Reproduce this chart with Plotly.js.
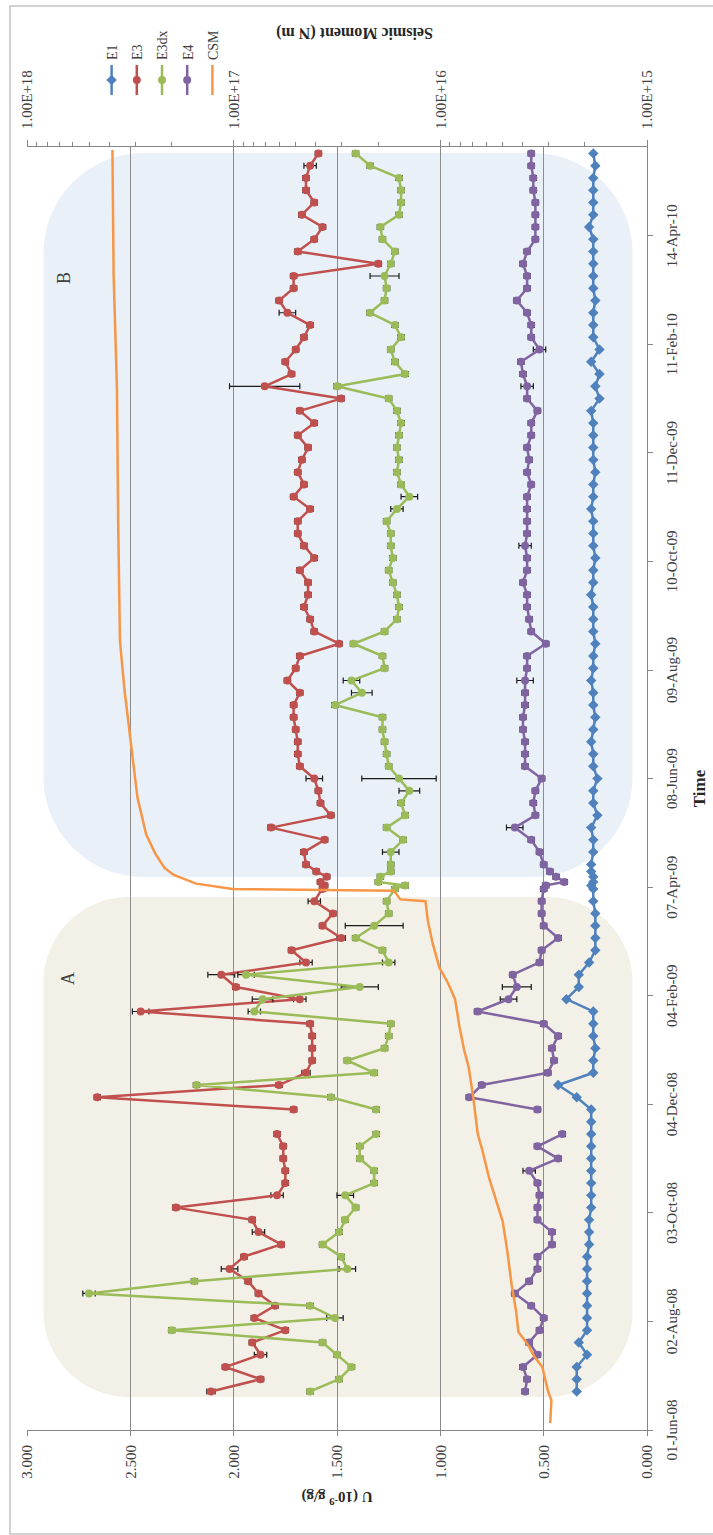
<!DOCTYPE html>
<html>
<head>
<meta charset="utf-8">
<script src="https://cdn.plot.ly/plotly-3.0.1.min.js"></script>
<style>
html,body{margin:0;padding:0;background:#fff;overflow:hidden;width:713px;height:1535px;}
#wrap{position:absolute;left:0;top:0;width:1535px;height:713px;transform-origin:0 0;transform:translateY(1535px) rotate(-90deg);}
</style>
</head>
<body>
<div id="wrap"><div id="chart"></div></div>
<script>
// ---------- DATA ----------
var dates = ["2008-06-23","2008-06-30","2008-07-07","2008-07-14","2008-07-21","2008-07-28","2008-08-04","2008-08-11","2008-08-18","2008-08-25",
"2008-09-01","2008-09-08","2008-09-15","2008-09-22","2008-09-29","2008-10-06","2008-10-13","2008-10-20","2008-10-27","2008-11-03",
"2008-11-10","2008-11-17","2008-11-24","2008-12-01","2008-12-08","2008-12-15","2008-12-22","2008-12-29","2009-01-05","2009-01-12",
"2009-01-19","2009-01-26","2009-02-02","2009-02-09","2009-02-16","2009-02-23","2009-03-02","2009-03-09","2009-03-16","2009-03-23",
"2009-03-30","2009-04-06","2009-04-08","2009-04-10","2009-04-13","2009-04-16","2009-04-20",
"2009-04-27","2009-05-04","2009-05-11","2009-05-18","2009-05-25","2009-06-01","2009-06-08","2009-06-15","2009-06-22","2009-06-29",
"2009-07-06","2009-07-13","2009-07-20","2009-07-27","2009-08-03","2009-08-10","2009-08-17","2009-08-24","2009-08-31","2009-09-07",
"2009-09-14","2009-09-21","2009-09-28","2009-10-05","2009-10-12","2009-10-19","2009-10-26","2009-11-02","2009-11-09","2009-11-16",
"2009-11-23","2009-11-30","2009-12-07","2009-12-14","2009-12-21","2009-12-28",
"2010-01-04","2010-01-11","2010-01-18","2010-01-25",
"2010-02-01","2010-02-08",
"2010-02-15","2010-02-22","2010-03-01","2010-03-08","2010-03-15","2010-03-22","2010-03-29","2010-04-05","2010-04-12",
"2010-04-19",
"2010-04-26","2010-05-03","2010-05-10","2010-05-17","2010-05-24","2010-05-31"];

var e1 = [.34,.34,.34,.29,.33,.29,.29,.29,.29,.29,
.29,.29,.28,.28,.28,.27,.27,.27,.27,.27,
.27,.27,.27,.27,.34,.43,.26,.26,.25,.26,
.26,.26,.39,.33,.33,.28,.25,.25,.25,.25,
.26,.26,.27,.26,.26,.27,.27,
.26,.26,.27,.24,.26,.26,.24,.26,.26,.27,
.26,.25,.26,.26,.27,.26,.26,.25,.26,.26,
.26,.27,.26,.26,.25,.26,.26,.26,.27,.26,
.26,.25,.26,.26,.26,.26,
.27,.23,.25,.23,
.27,.23,
.26,.26,.26,.25,.26,.26,.26,.26,.26,
.28,
.26,.26,.26,.26,.25,.26];

var e3 = [2.11,1.87,2.04,1.87,1.91,1.75,1.90,1.80,1.88,1.93,
2.02,1.95,1.77,1.88,1.91,2.28,1.79,1.75,1.75,1.76,
1.76,1.79,null,1.71,2.66,1.78,1.65,1.62,1.62,1.62,
1.63,2.45,1.68,1.99,2.06,1.65,1.72,1.48,1.57,1.52,
1.61,1.57,1.56,1.58,1.55,1.60,1.65,
1.66,1.56,1.82,1.53,1.58,1.59,1.61,1.68,1.69,1.69,
1.70,1.71,1.71,1.68,1.74,1.70,1.68,1.49,1.61,1.63,
1.66,1.64,1.64,1.68,1.61,1.66,1.69,1.69,1.63,1.71,
1.66,1.69,1.67,1.64,1.69,1.61,
1.68,1.48,1.85,1.72,
1.75,1.70,
1.66,1.63,1.74,1.78,1.71,1.71,1.30,1.69,1.61,
1.57,
1.67,1.61,1.65,1.65,1.63,1.59];

var e3dx = [1.63,1.49,1.43,1.50,1.57,2.30,1.51,1.63,2.70,2.19,
1.45,1.48,1.57,1.49,1.46,1.41,1.46,1.32,1.32,1.39,
1.39,1.31,null,1.31,1.53,2.18,1.32,1.45,1.27,1.25,
1.24,1.90,1.86,1.39,1.94,1.25,1.28,1.41,1.32,1.25,
1.26,1.22,1.17,1.30,1.29,1.24,1.24,
1.24,1.18,1.26,1.17,1.19,1.15,1.20,1.25,1.26,1.27,
1.28,1.28,1.51,1.38,1.43,1.27,1.28,1.42,1.27,1.21,
1.20,1.21,1.23,1.25,1.23,1.24,1.24,1.26,1.21,1.15,
1.19,1.21,1.20,1.21,1.20,1.19,
1.21,1.25,1.50,1.17,
1.22,1.24,
1.19,1.22,1.34,1.27,1.26,1.27,1.24,1.22,1.28,
1.29,
1.20,1.19,1.19,1.20,1.34,1.41];

var e4 = [.59,.58,.60,.53,.57,.52,.50,.56,.64,.57,
.53,.53,.46,.46,.53,.53,.52,.53,.57,.43,
.53,.41,null,.53,.86,.80,.48,.45,.46,.43,
.50,.82,.67,.63,.65,.52,.51,.43,.50,.51,
.51,.50,.49,.40,.44,.47,.50,
.52,.56,.64,.54,.55,.54,.51,.59,.59,.59,
.60,.60,.59,.59,.59,.58,.58,.49,.56,.57,
.58,.58,.60,.58,.58,.59,.58,.58,.58,.58,
.56,.58,.57,.58,.56,.56,
.53,.58,.58,.60,
.61,.52,
.56,.56,.58,.63,.58,.58,.60,.58,.54,
.54,
.54,.54,.55,.55,.56,.56];

var e3Err = [.02,.015,.015,.03,.015,.015,.015,.015,.015,.015,
.04,.015,.015,.03,.015,.015,.03,.015,.015,.015,
.015,.015,0,.015,.015,.015,.02,.015,.015,.015,
.015,.04,.03,.015,.065,.03,.015,.02,.015,.015,
.03,.015,.015,.015,.015,.015,.015,.015,.015,.015,
.015,.015,.015,.04,.015,.015,.015,.015,.015,.015,
.015,.015,.015,.015,.015,.015,.015,.015,.015,.015,
.015,.015,.015,.015,.015,.015,.015,.015,.015,.015,
.015,.015,.015,.015,.015,.17,.015,.015,.015,.015,
.015,.04,.015,.015,.015,.015,.015,.015,.015,.015,
.015,.015,.015,.03,.015];

var e3dxErr = [.015,.015,.015,.015,.015,.015,.04,.015,.03,.015,
.04,.015,.015,.015,.015,.015,.04,.015,.015,.015,
.015,.015,0,.015,.015,.015,.015,.015,.015,.015,
.015,.03,.05,.09,.04,.03,.015,.015,.14,.015,
.015,.015,.015,.015,.015,.015,.015,.04,.015,.015,
.015,.015,.05,.18,.015,.015,.015,.015,.015,.015,
.05,.04,.015,.015,.015,.015,.015,.015,.015,.015,
.015,.015,.015,.015,.015,.03,.04,.015,.015,.015,
.015,.015,.015,.015,.015,.015,.015,.015,.015,.015,
.015,.015,.015,.015,.07,.015,.015,.015,.015,.015,
.015,.015,.015,.015,.015];

var e4Err = [.015,.015,.015,.015,.015,.015,.015,.015,.015,.015,
.015,.015,.015,.015,.015,.015,.015,.015,.03,.015,
.015,.015,0,.015,.015,.015,.015,.015,.015,.015,
.015,.015,.04,.07,.015,.015,.015,.015,.015,.015,
.015,.015,.015,.015,.015,.015,.015,.015,.015,.04,
.015,.015,.015,.015,.015,.015,.015,.015,.015,.015,
.015,.04,.015,.015,.015,.015,.015,.015,.015,.015,
.015,.015,.03,.015,.015,.015,.015,.015,.015,.015,
.015,.015,.015,.015,.015,.03,.015,.015,.03,.015,
.015,.015,.015,.015,.015,.015,.015,.015,.015,.015,
.015,.015,.015,.015,.015];

var csmDates = ["2008-06-05","2008-06-18","2008-06-23","2008-07-07","2008-07-13","2008-07-20","2008-07-27","2008-08-08","2008-08-23","2008-09-11",
"2008-09-28","2008-10-10","2008-10-23","2008-11-08","2008-11-17","2008-12-08","2008-12-25","2009-01-04","2009-01-17","2009-02-02",
"2009-02-11","2009-02-20","2009-03-06","2009-03-19","2009-03-30","2009-03-31","2009-04-05","2009-04-06","2009-04-09","2009-04-14",
"2009-04-18","2009-04-26","2009-05-07","2009-05-28","2009-06-20","2009-07-09","2009-07-28","2009-08-16","2009-08-26","2009-10-31",
"2010-01-16","2010-03-23","2010-06-02"];
var csmValues = [2.94e15,2.90e15,3.01e15,3.21e15,3.51e15,3.78e15,4.19e15,4.30e15,4.52e15,4.74e15,
4.99e15,5.38e15,5.81e15,6.27e15,6.59e15,6.93e15,7.29e15,7.67e15,8.07e15,8.49e15,
9.16e15,1.01e16,1.09e16,1.15e16,1.18e16,1.56e16,1.68e16,1.01e17,1.52e17,1.95e17,
2.16e17,2.39e17,2.65e17,2.92e17,3.08e17,3.24e17,3.37e17,3.49e17,3.55e17,3.62e17,
3.67e17,3.81e17,3.86e17];

var uTickVals = [0,0.5,1,1.5,2,2.5,3];
var momentTickVals = [1e15,1e16,1e17,1e18];
var momentTickText = ["1.00E+15","1.00E+16","1.00E+17","1.00E+18"];
var seriesNames = ["E1","E3","E3dx","E4","CSM"];
var regionLabels = ["A","B"];

// ---------- STYLE ----------
var C = {e1:"#4F81BD", e3:"#C0504D", e3dx:"#9BBB59", e4:"#8064A2", csm:"#F79646"};
var FONT = "Liberation Serif, Times New Roman, serif";
var axisCol = "#868686";

function errBar(arr){ return {type:"data", array:arr, visible:true, color:"#1a1a1a", thickness:1.2, width:3}; }

var traces = [
 {x:dates, y:e1, name:seriesNames[0], mode:"lines+markers", legendgroup:"g1",
  line:{color:C.e1, width:2.5}, marker:{symbol:"diamond", size:8, color:C.e1}},
 {x:dates, y:e3, name:seriesNames[1], mode:"lines+markers", legendgroup:"g2",
  line:{color:C.e3, width:2.5}, marker:{symbol:"circle", size:8, color:C.e3}, error_y:errBar(e3Err)},
 {x:dates, y:e3dx, name:seriesNames[2], mode:"lines+markers", legendgroup:"g3",
  line:{color:C.e3dx, width:2.5}, marker:{symbol:"circle", size:8, color:C.e3dx}, error_y:errBar(e3dxErr)},
 {x:dates, y:e4, name:seriesNames[3], mode:"lines+markers", legendgroup:"g4",
  line:{color:C.e4, width:2.5}, marker:{symbol:"circle", size:8, color:C.e4}, error_y:errBar(e4Err)},
 {x:csmDates, y:csmValues, name:seriesNames[4], mode:"lines", yaxis:"y2", legendgroup:"g5",
  line:{color:C.csm, width:2.5}}
];

var W=1535, H=713, mL=105, mR=147, mT=27, mB=66;
var pw = W-mL-mR, ph = H-mT-mB;

function roundRect(x0,x1,y0,y1,rpx){
  var rx = rpx/pw, ry = rpx/ph, k = 0.5523;
  return "M"+(x0+rx)+","+y0+" L"+(x1-rx)+","+y0+
    " C"+(x1-rx+k*rx)+","+y0+" "+x1+","+(y0+ry-k*ry)+" "+x1+","+(y0+ry)+
    " L"+x1+","+(y1-ry)+
    " C"+x1+","+(y1-ry+k*ry)+" "+(x1-rx+k*rx)+","+y1+" "+(x1-rx)+","+y1+
    " L"+(x0+rx)+","+y1+
    " C"+(x0+rx-k*rx)+","+y1+" "+x0+","+(y1-ry+k*ry)+" "+x0+","+(y1-ry)+
    " L"+x0+","+(y0+ry)+
    " C"+x0+","+(y0+ry-k*ry)+" "+(x0+rx-k*rx)+","+y0+" "+(x0+rx)+","+y0+" Z";
}
function px2x(px){ return (px-mL)/pw; }
function px2y(py){ return (H-mB-py)/ph; }

var layout = {
  width:W, height:H,
  margin:{l:mL, r:mR, t:mT, b:mB, autoexpand:false},
  paper_bgcolor:"#ffffff", plot_bgcolor:"rgba(0,0,0,0)",
  font:{family:FONT, size:15, color:"#404040"},
  showlegend:true,
  legend:{x:px2x(1435), y:px2y(96), xanchor:"left", yanchor:"top", orientation:"v",
    font:{family:FONT, size:14, color:"#404040"}, bgcolor:"rgba(0,0,0,0)", tracegroupgap:4},
  xaxis:{type:"date", range:["2008-06-01","2010-06-03 16:00"], tick0:"2008-06-01", dtick:62*86400000,
    tickformat:"%d-%b-%y", ticks:"outside", ticklen:5, tickcolor:axisCol, showline:true, linecolor:axisCol, linewidth:1,
    showgrid:false, zeroline:false, ticklabelstandoff:6,
    title:{text:"<b>Time</b>", font:{family:FONT, size:17, color:"#262626"}, standoff:14}},
  yaxis:{range:[0,3], tickvals:uTickVals, tickformat:".3f", showgrid:true, gridcolor:"#8c8c8c", gridwidth:1,
    ticks:"outside", ticklen:5, tickcolor:axisCol, showline:true, linecolor:axisCol, zeroline:false, ticklabelstandoff:6,
    title:{text:"<b>U (10<sup>-9</sup> g/g)</b>", font:{family:FONT, size:15, color:"#262626"}, standoff:8}},
  yaxis2:{type:"log", overlaying:"y", side:"right", range:[15,18], tickvals:momentTickVals, ticktext:momentTickText,
    ticks:"outside", ticklen:6, tickcolor:axisCol, showline:true, linecolor:axisCol, showgrid:false, zeroline:false,
    ticklabelstandoff:8,
    minor:{ticks:"outside", ticklen:4, tickcolor:axisCol, dtick:"D1", showgrid:false}},
  shapes:[
    {type:"path", xref:"paper", yref:"paper", layer:"below", line:{width:0}, fillcolor:"rgb(243,241,231)",
     path:roundRect(px2x(138), px2x(638), 0.07/3, 2.92/3, 85)},
    {type:"path", xref:"paper", yref:"paper", layer:"below", line:{width:0}, fillcolor:"rgb(233,240,248)",
     path:roundRect(px2x(658), px2x(1382), 0.07/3, 2.92/3, 100)},
    {type:"rect", xref:"paper", yref:"paper", x0:px2x(1), x1:px2x(1529), y0:px2y(760), y1:px2y(10),
     line:{color:"#c4c4c4", width:1.5}, fillcolor:"rgba(0,0,0,0)"}
  ],
  annotations:[
    {xref:"paper", yref:"paper", x:px2x(1502), y:px2y(355), text:"<b>Seismic Moment (N m)</b>", textangle:-90,
     showarrow:false, font:{family:FONT, size:16, color:"#262626"}, xanchor:"center", yanchor:"middle"},
    {xref:"x", yref:"y", x:"2009-02-14", y:2.80, text:regionLabels[0], showarrow:false, font:{family:FONT, size:18, color:"#404040"}},
    {xref:"x", yref:"y", x:"2010-03-21", y:2.82, text:regionLabels[1], showarrow:false, font:{family:FONT, size:18, color:"#404040"}}
  ]
};

Plotly.newPlot("chart", traces, layout, {staticPlot:true, displayModeBar:false});
</script>
</body>
</html>
